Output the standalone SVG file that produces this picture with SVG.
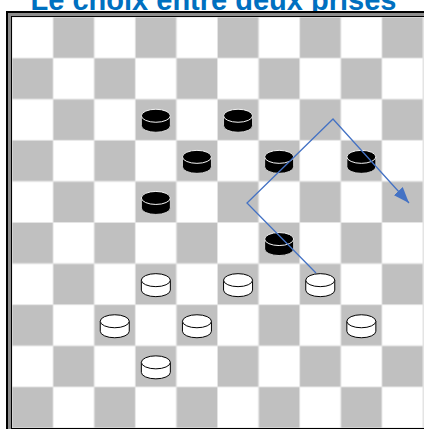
<svg xmlns="http://www.w3.org/2000/svg" xmlns:xlink="http://www.w3.org/1999/xlink" width="424" height="429" viewBox="0 0 424 429">
  <style>
    .title { font-family: "Liberation Sans", Arial, sans-serif; font-weight: bold; font-size: 29px; fill: #0070C0; }
    .blk-side { fill: #000; stroke: #d8d8d8; stroke-width: 0.9; }
    .blk-top { fill: #000; stroke: #f4f4f4; stroke-width: 1; }
    .wht-side { fill: #fff; stroke: #000; stroke-width: 1; }
    .wht-top { fill: #fff; stroke: #000; stroke-width: 1; }
    .move { fill: none; stroke: #4472C4; stroke-width: 1.3; stroke-linejoin: miter; }
  </style>
  <defs>
    <pattern id="board" patternUnits="userSpaceOnUse" x="12" y="17" width="82.2" height="82.2">
      <rect x="0" y="0" width="82.2" height="82.2" fill="#e4e4e4"/>
      <rect x="0.5" y="0.5" width="40.1" height="40.1" fill="#fff"/>
      <rect x="41.6" y="41.6" width="40.1" height="40.1" fill="#fff"/>
      <rect x="41.6" y="0.5" width="40.1" height="40.1" fill="#c0c0c0"/>
      <rect x="0.5" y="41.6" width="40.1" height="40.1" fill="#c0c0c0"/>
    </pattern>
    <g id="bp">
      <path class="blk-side" d="M-14.5,-4 L-14.5,6 A14.5,6.5 0 0 0 14.5,6 L14.5,-4 Z"/>
      <ellipse class="blk-top" cx="0" cy="-4" rx="14.5" ry="6.5"/>
    </g>
    <g id="wp">
      <path class="wht-side" d="M-14.5,-4 L-14.5,6 A14.5,6.5 0 0 0 14.5,6 L14.5,-4 Z"/>
      <ellipse class="wht-top" cx="0" cy="-4" rx="14.5" ry="6.5"/>
    </g>
    <marker id="arrow" markerUnits="userSpaceOnUse" markerWidth="16" markerHeight="12" refX="16" refY="6" orient="auto">
      <path d="M0,0 L16,6 L0,12 Z" fill="#4472C4"/>
    </marker>
  </defs>

  <rect x="0" y="0" width="424" height="429" fill="#fff"/>
  <text class="title" x="213.5" y="10" text-anchor="middle">Le choix entre deux prises</text>

  <g id="board-frame">
    <rect x="6" y="11" width="430" height="430" fill="#000"/>
    <rect x="8" y="13" width="430" height="430" fill="#8c8c8c"/>
    <rect x="11" y="16" width="430" height="430" fill="#000"/>
    <rect x="12" y="17" width="411" height="411" fill="url(#board)"/>
    <rect x="423" y="17" width="1" height="411" fill="#e4e4e4"/>
  </g>

  <g id="black-pieces">
    <g id="b1"><use xlink:href="#bp" href="#bp" x="155.85" y="119.75"/></g>
    <g id="b2"><use xlink:href="#bp" href="#bp" x="238.05" y="119.75"/></g>
    <g id="b3"><use xlink:href="#bp" href="#bp" x="196.95" y="160.85"/></g>
    <g id="b4"><use xlink:href="#bp" href="#bp" x="279.15" y="160.85"/></g>
    <g id="b5"><use xlink:href="#bp" href="#bp" x="361.35" y="160.85"/></g>
    <g id="b6"><use xlink:href="#bp" href="#bp" x="155.85" y="201.95"/></g>
    <g id="b7"><use xlink:href="#bp" href="#bp" x="279.15" y="243.05"/></g>
  </g>

  <g id="white-pieces">
    <g id="w1"><use xlink:href="#wp" href="#wp" x="155.85" y="284.15"/></g>
    <g id="w2"><use xlink:href="#wp" href="#wp" x="238.05" y="284.15"/></g>
    <g id="w3"><use xlink:href="#wp" href="#wp" x="320.25" y="284.15"/></g>
    <g id="w4"><use xlink:href="#wp" href="#wp" x="114.75" y="325.25"/></g>
    <g id="w5"><use xlink:href="#wp" href="#wp" x="196.95" y="325.25"/></g>
    <g id="w6"><use xlink:href="#wp" href="#wp" x="361.35" y="325.25"/></g>
    <g id="w7"><use xlink:href="#wp" href="#wp" x="155.85" y="366.35"/></g>
  </g>

  <g id="connectors">
    <polyline class="move" points="316,273 247,203 333,119 409,203" marker-end="url(#arrow)"/>
  </g>
</svg>
